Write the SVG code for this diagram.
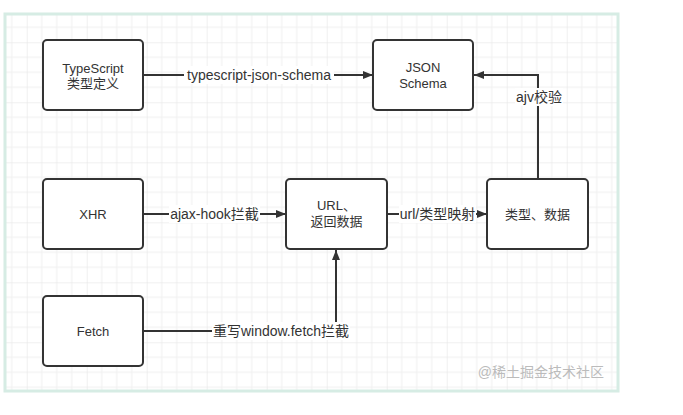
<svg xmlns="http://www.w3.org/2000/svg" width="683" height="415" viewBox="0 0 683 415">
<style>
.node rect{fill:#ffffff;stroke:#333333;stroke-width:2}
.node text,.lbl text{font-family:"Liberation Sans","Noto Sans CJK SC",sans-serif;font-size:13px;fill:#333333;text-anchor:middle}
.lbl text{font-size:14px}
.conn path{fill:none;stroke:#333333;stroke-width:2}
.lbl rect{fill:#ffffff}
.wm{font-family:"Liberation Sans","Noto Sans CJK SC",sans-serif;font-size:14px;fill:#bbbbbb;text-anchor:end}
</style>
<defs>
<pattern id="grid" patternUnits="userSpaceOnUse" x="26.7" y="42.3" width="60" height="60">
<path d="M15,0V60M30,0V60M45,0V60M0,15H60M0,30H60M0,45H60" stroke="#efefef" stroke-width="1" fill="none"/>
<path d="M0,0V60M0,0H60" stroke="#e2e2e2" stroke-width="1" fill="none"/>
</pattern>
<marker id="arr" markerUnits="userSpaceOnUse" markerWidth="11" markerHeight="9" refX="10" refY="4" orient="auto">
<path d="M0,0L10,4L0,8z" fill="#333333"/>
</marker>
</defs>
<rect x="0" y="0" width="683" height="415" fill="#ffffff"/>
<rect x="5" y="14" width="613" height="377" fill="#ffffff"/>
<rect x="5" y="14" width="613" height="377" fill="url(#grid)" stroke="#d6ece4" stroke-width="3"/>

<g id="connectors" class="conn">
<path d="M143,75H373" marker-end="url(#arr)"/>
<path d="M538,179V75H474" marker-end="url(#arr)"/>
<path d="M143,214H286" marker-end="url(#arr)"/>
<path d="M387,214H487" marker-end="url(#arr)"/>
<path d="M143,331H336V250" marker-end="url(#arr)"/>
</g>

<g id="labels" class="lbl">
<rect x="184" y="66" width="150" height="18"/>
<text x="259" y="80">typescript-json-schema</text>
<rect x="515" y="88" width="48" height="18"/>
<text x="539" y="102">ajv校验</text>
<rect x="169" y="205" width="91" height="18"/>
<text x="214.5" y="219">ajax-hook拦截</text>
<rect x="399" y="205" width="77" height="18"/>
<text x="437.5" y="219">url/类型映射</text>
<rect x="212" y="322" width="138" height="18"/>
<text x="281" y="336">重写window.fetch拦截</text>
</g>

<g id="node-typescript" class="node">
<rect x="43" y="40" width="100" height="70" rx="4"/>
<text x="93" y="72.5">TypeScript</text>
<text x="93" y="88">类型定义</text>
</g>
<g id="node-json" class="node">
<rect x="373" y="40" width="100" height="70" rx="4"/>
<text x="423" y="72">JSON</text>
<text x="423" y="88">Schema</text>
</g>
<g id="node-xhr" class="node">
<rect x="43" y="179" width="100" height="70" rx="4"/>
<text x="93" y="218.5">XHR</text>
</g>
<g id="node-url" class="node">
<rect x="286" y="179" width="101" height="70" rx="4"/>
<text x="336.5" y="209.5">URL、</text>
<text x="336.5" y="226">返回数据</text>
</g>
<g id="node-typedata" class="node">
<rect x="487" y="179" width="101" height="70" rx="4"/>
<text x="537.5" y="218.5">类型、数据</text>
</g>
<g id="node-fetch" class="node">
<rect x="43" y="296" width="100" height="70" rx="4"/>
<text x="93" y="335.5">Fetch</text>
</g>

<text class="wm" x="604" y="377">@稀土掘金技术社区</text>
</svg>
